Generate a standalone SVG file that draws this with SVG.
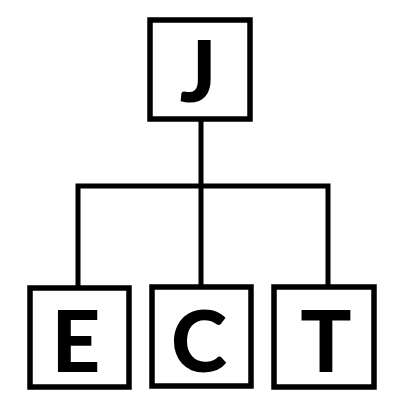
<svg xmlns="http://www.w3.org/2000/svg" width="400" height="400" viewBox="0 0 400 400">
<style>
.box{fill:#fff;stroke:#000;stroke-width:5.5}
.lbl{font-family:Lato,"Open Sans","Liberation Sans",sans-serif;font-weight:900;font-size:85px;fill:#000;text-anchor:middle}
.conn{fill:none;stroke:#000;stroke-width:5;stroke-linejoin:miter;stroke-linecap:butt}
</style>
<rect width="400" height="400" fill="#fff"/>
<g id="connectors">
<polyline class="conn" points="78,288 78,186 328,186 328,287"/>
<line class="conn" x1="201" y1="119" x2="201" y2="287"/>
</g>
<g id="node-J"><rect class="box" x="150" y="20" width="100" height="99"/><text class="lbl" x="198" y="102">J</text></g>
<g id="node-E"><rect class="box" x="30" y="288" width="99" height="99"/><text class="lbl" x="76" y="372">E</text></g>
<g id="node-C"><rect class="box" x="152" y="287" width="99" height="99"/><text class="lbl" x="199" y="372">C</text></g>
<g id="node-T"><rect class="box" x="274" y="287" width="100" height="100"/><text class="lbl" x="326" y="372">T</text></g>
</svg>
